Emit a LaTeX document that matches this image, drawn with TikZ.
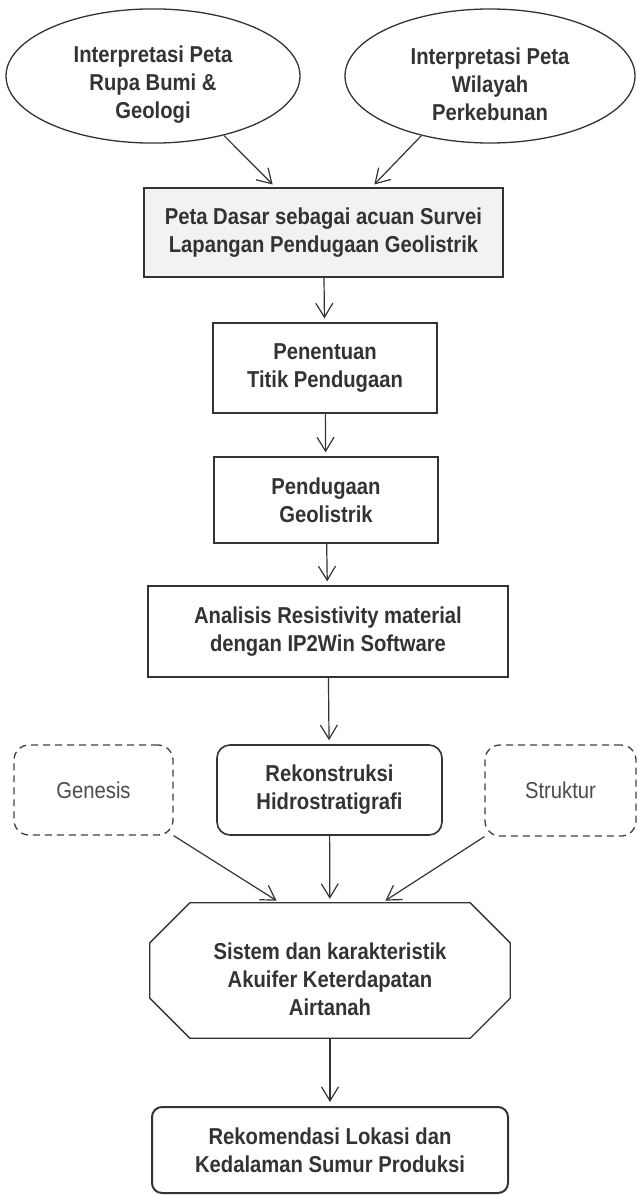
\documentclass[tikz,border=0pt]{standalone}
\usepackage{fontspec}
\setmainfont{Liberation Sans}[FakeStretch=0.88]
\usetikzlibrary{arrows.meta,positioning,shapes,calc}
\newcommand{\turun}{\rule{0pt}{34pt}}

\begin{document}
\begin{tikzpicture}[x=1pt,y=-1pt,>={Straight Barb[length=14pt,width=17pt]},
  every node/.style={align=center,text=black!80,font=\fontsize{23}{28}\selectfont\bfseries},
  blok/.style={draw=black!80,line width=1.3pt,inner sep=0pt},
  faktor/.style={draw=black!75,line width=1.3pt,dash pattern=on 7pt off 5pt,rounded corners=15pt,
    inner sep=0pt,text=black!70,font=\fontsize{23}{28}\selectfont\mdseries},
  arr/.style={->,draw=black!80,line width=1.2pt,shorten >=4pt}]
  \useasboundingbox (0,0) rectangle (637,1196);

  % Input maps
  \node[blok,ellipse,minimum width=294pt,minimum height=134pt] (peL) at (153,76)
    {\turun Interpretasi Peta\\Rupa Bumi \&\\Geologi};
  \node[blok,ellipse,minimum width=290pt,minimum height=134pt] (peR) at (490,76)
    {\turun Interpretasi Peta\\Wilayah\\Perkebunan};

  % Main column
  \node[blok,fill=black!5,minimum width=359pt,minimum height=89pt] (peta) at (323.5,232.5)
    {Peta Dasar sebagai acuan Survei\\Lapangan Pendugaan Geolistrik};
  \node[blok,minimum width=224pt,minimum height=90pt] (penentuan) at (325,368)
    {Penentuan\\Titik Pendugaan};
  \node[blok,minimum width=224pt,minimum height=86pt] (pendugaan) at (326,500)
    {Pendugaan\\Geolistrik};
  \node[blok,minimum width=360pt,minimum height=91pt] (analisis) at (328,631.5)
    {Analisis Resistivity material\\dengan IP2Win Software};
  \node[blok,rounded corners=13pt,line width=1.6pt,minimum width=225pt,minimum height=90pt] (rekon) at (329.5,790)
    {Rekonstruksi\\Hidrostratigrafi};

  % Side factors
  \node[faktor,minimum width=159pt,minimum height=90pt] (genesis) at (93.5,790) {Genesis};
  \node[faktor,minimum width=151pt,minimum height=91pt] (struktur) at (560.5,790.5) {Struktur};

  % Aquifer system (octagon)
  \node[minimum width=360pt,minimum height=135pt,inner sep=0pt] (sistem) at (330,970.5)
    {\turun Sistem dan karakteristik\\Akuifer Keterdapatan\\Airtanah};
  \draw[blok] ([xshift=40pt]sistem.north west) -- ([xshift=-40pt]sistem.north east)
    -- ([yshift=-40pt]sistem.north east) -- ([yshift=40pt]sistem.south east)
    -- ([xshift=-40pt]sistem.south east) -- ([xshift=40pt]sistem.south west)
    -- ([yshift=40pt]sistem.south west) -- ([yshift=-40pt]sistem.north west) -- cycle;

  \node[blok,rounded corners=10pt,line width=2pt,minimum width=356pt,minimum height=86pt] (rekom) at (330,1150)
    {Rekomendasi Lokasi dan\\Kedalaman Sumur Produksi};

  % Arrows
  \draw[arr] (peL.-40) -- ([xshift=-48pt]peta.north);
  \draw[arr] (peR.-139) -- ([xshift=48pt]peta.north);
  \draw[arr] (peta) -- (penentuan);
  \draw[arr] (penentuan) -- (pendugaan);
  \draw[arr] (pendugaan) -- (analisis);
  \draw[arr] (analisis) -- (rekon);
  \draw[arr] (genesis.south east) -- ([xshift=-50pt]sistem.north);
  \draw[arr] (rekon) -- (sistem);
  \draw[arr] (struktur.south west) -- ([xshift=52pt]sistem.north);
  \draw[arr] (sistem) -- (rekom);
\end{tikzpicture}
\end{document}
